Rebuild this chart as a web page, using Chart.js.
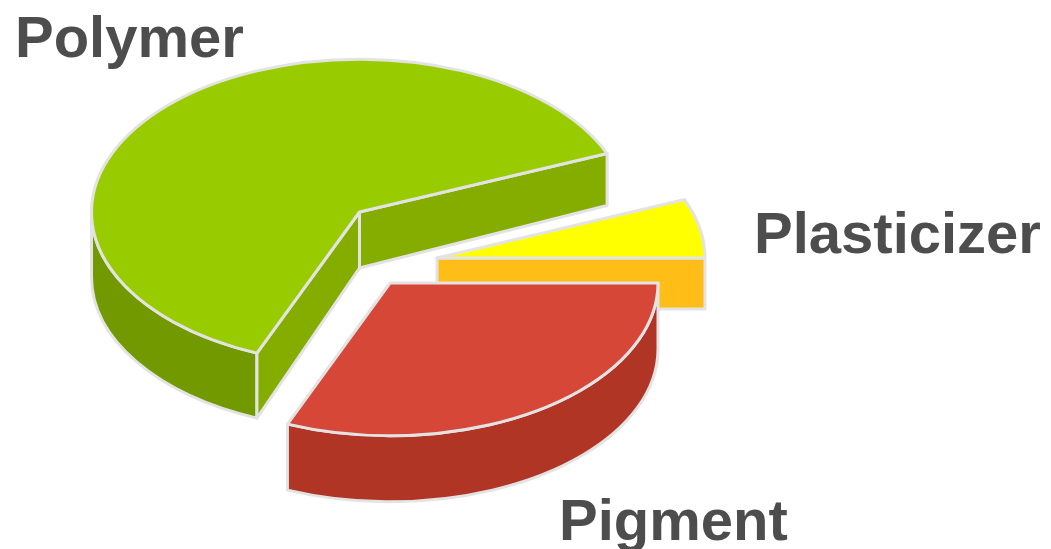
<!DOCTYPE html>
<html>
<head>
    <title>Polymer composition</title>
    <script src="https://cdn.jsdelivr.net/npm/chart.js"></script>
    <style>
        html, body { margin: 0; background: #fff; }
        canvas { display: block; }
    </style>
</head>
<body>
    <canvas id="myChart" width="1051" height="549"></canvas>
    <script>
        // Chart data
        const categories = ['Polymer', 'Plasticizer', 'Pigment'];
        const shares = [62.5, 6.25, 31.25];

        // Colours per slice
        const topColors = ['#99cc00', '#ffff00', '#d64738'];
        const wallColors = ['#84ad00', '#ffbd17', '#b03525'];
        const rimColors = ['#739900', '#ffbd17', '#b03525'];
        const edgeColor = '#e3e3e3';

        // 3D look: squash of the disc, how far each slice is pulled from the chart centre (px)
        const squash = 0.57;
        const pull = [[-166, -62.5], [-88.5, -16.5], [-135.5, 8.5]];
        // extrusion height of each slice at [start of rim, centre, end of rim]
        const depth = [[65, 56, 52], [51, 51, 51], [66, 66, 66]];
        const paintOrder = [1, 0, 2];

        // Where the slice names go
        const labelPos = [[15, 57], [754, 253], [559, 540]];

        function fillStroke(ctx, fill) {
            ctx.fillStyle = fill;
            ctx.fill();
            ctx.stroke();
        }

        function drawSlice(chart, arc, i) {
            const ctx = chart.ctx;
            const cx = arc.x + pull[i][0];
            const cy = arc.y + pull[i][1];
            const r = arc.outerRadius;
            const a0 = arc.startAngle;
            const a1 = arc.endAngle;
            const [d0, dc, d1] = depth[i];
            const px = (a) => cx + r * Math.cos(a);
            const py = (a) => cy + r * squash * Math.sin(a);

            ctx.save();
            ctx.strokeStyle = edgeColor;
            ctx.lineWidth = 3;
            ctx.lineJoin = 'round';

            // outer rim, only the part facing the viewer (sin > 0)
            [0, 2 * Math.PI].forEach((base) => {
                const from = Math.max(a0, base);
                const to = Math.min(a1, base + Math.PI);
                if (to - from < 0.001) return;
                ctx.beginPath();
                ctx.ellipse(cx, cy, r, r * squash, 0, from, to);
                ctx.ellipse(cx, cy + d0, r, r * squash, 0, to, from, true);
                ctx.closePath();
                fillStroke(ctx, rimColors[i]);
            });

            // flat cut walls
            if (Math.cos(a0) < 0) {
                ctx.beginPath();
                ctx.moveTo(cx, cy);
                ctx.lineTo(px(a0), py(a0));
                ctx.lineTo(px(a0), py(a0) + d0);
                ctx.lineTo(cx, cy + dc);
                ctx.closePath();
                fillStroke(ctx, wallColors[i]);
            }
            if (Math.cos(a1) > 0) {
                ctx.beginPath();
                ctx.moveTo(cx, cy);
                ctx.lineTo(px(a1), py(a1));
                ctx.lineTo(px(a1), py(a1) + d1);
                ctx.lineTo(cx, cy + dc);
                ctx.closePath();
                fillStroke(ctx, wallColors[i]);
            }

            // top face: the library's own arc, squashed and moved
            ctx.save();
            ctx.translate(cx, cy);
            ctx.scale(1, squash);
            ctx.translate(-arc.x, -arc.y);
            arc.draw(ctx, chart.chartArea);
            ctx.restore();

            ctx.beginPath();
            ctx.moveTo(cx, cy);
            ctx.ellipse(cx, cy, r, r * squash, 0, a0, a1);
            ctx.closePath();
            ctx.stroke();
            ctx.restore();
        }

        const pie3d = {
            id: 'pie3d',
            // replaces the flat drawing of the datasets
            beforeDatasetsDraw(chart) {
                const arcs = chart.getDatasetMeta(0).data;
                paintOrder.forEach((i) => drawSlice(chart, arcs[i], i));
                return false;
            },
            afterDraw(chart) {
                const ctx = chart.ctx;
                ctx.save();
                ctx.font = 'bold 58px "Liberation Sans", Arial, sans-serif';
                ctx.fillStyle = '#4d4d4d';
                ctx.textBaseline = 'alphabetic';
                chart.data.labels.forEach((name, i) => {
                    ctx.fillText(name, labelPos[i][0], labelPos[i][1]);
                });
                ctx.restore();
            }
        };

        const ctx = document.getElementById('myChart').getContext('2d');
        new Chart(ctx, {
            type: 'pie',
            data: {
                labels: categories,
                datasets: [{
                    data: shares,
                    backgroundColor: topColors,
                    borderWidth: 0
                }]
            },
            options: {
                responsive: false,
                animation: false,
                rotation: 202.5,
                radius: 268,
                events: [],
                plugins: {
                    legend: { display: false },
                    tooltip: { enabled: false }
                }
            },
            plugins: [pie3d]
        });
    </script>
</body>
</html>
